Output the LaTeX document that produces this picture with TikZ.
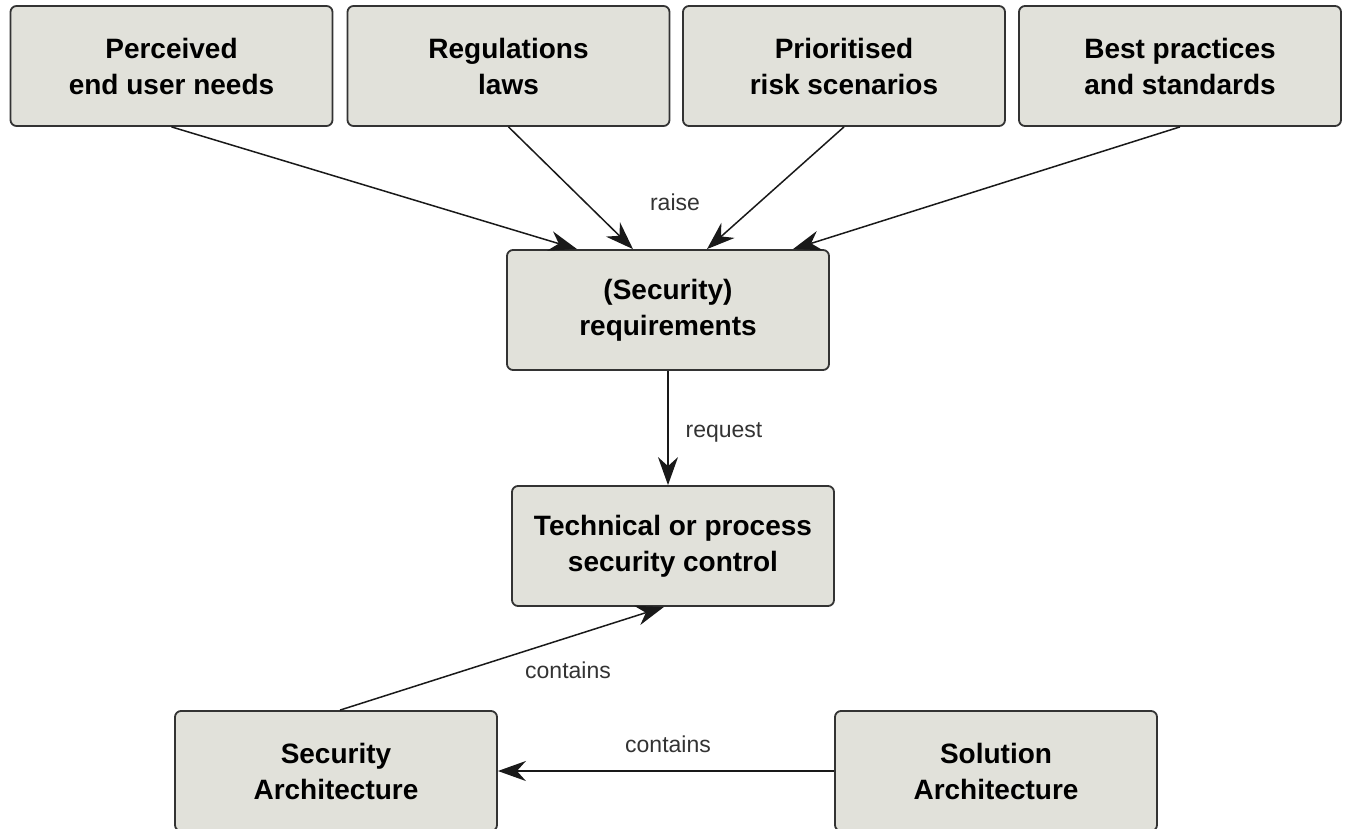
\documentclass[tikz,border=0pt]{standalone}
\usepackage{fontspec}
\setmainfont{Liberation Sans}
\usetikzlibrary{arrows.meta}
\definecolor{boxfill}{HTML}{E1E1DA}
\definecolor{boxline}{HTML}{333333}
\definecolor{labeltext}{HTML}{333333}
\begin{document}
\begin{tikzpicture}[x=1pt,y=-1pt,
  box/.style={draw=boxline,line width=1.8pt,fill=boxfill,rounded corners=6pt,
    minimum width=322pt,minimum height=120pt,align=center,inner sep=0pt,
    font=\fontsize{28}{36}\selectfont\bfseries},
  link/.style={draw=black!90,line width=1.5pt,-{Stealth[length=28pt,width=20pt,inset=9pt]}},
  lbl/.style={font=\fontsize{23}{26}\selectfont,text=labeltext}]
\clip (0,0) rectangle (1346,829);
\useasboundingbox (0,0) rectangle (1346,829);
% sources of requirements
\node[box] (needs) at (171.5,66) {Perceived\\end user needs};
\node[box] (laws)  at (508.5,66) {Regulations\\laws};
\node[box] (risk)  at (844,66)   {Prioritised\\risk scenarios};
\node[box] (best)  at (1180,66)  {Best practices\\and standards};
% central chain
\node[box] (req)  at (668,310) {(Security)\\requirements};
\node[box] (ctrl) at (673,546) {Technical or process\\security control};
% architectures
\node[box] (secarch) at (336,771) {Security\\Architecture};
\node[box] (solarch) at (996,771) {Solution\\Architecture};
% connectors
\draw[link] (needs.south) -- ([xshift=-91pt]req.north);
\draw[link] (laws.south)  -- ([xshift=-35pt]req.north);
\draw[link] (risk.south)  -- ([xshift=39pt]req.north);
\draw[link] (best.south)  -- ([xshift=125pt]req.north);
\node[lbl] (raise) at (675,202) {raise};
\draw[link] (req.south) -- ([xshift=-5pt]ctrl.north);
\node[lbl] (request) at (724,432) {request};
\draw[link] ([xshift=4pt]secarch.north) -- ([xshift=-9pt]ctrl.south);
\node[lbl] (contains1) at (568,670) {contains};
\draw[link] (solarch.west) -- (secarch.east);
\node[lbl] (contains2) at (668,744) {contains};
\end{tikzpicture}
\end{document}
